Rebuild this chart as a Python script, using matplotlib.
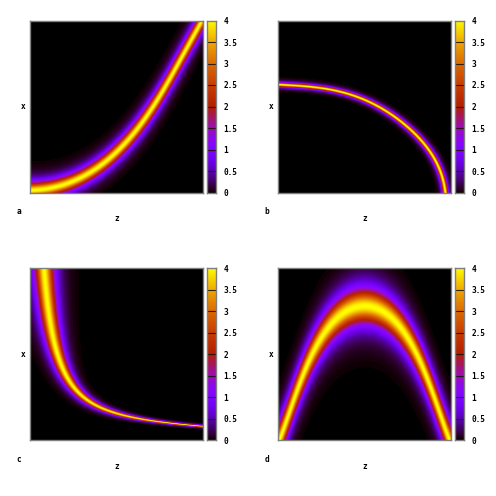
import numpy as np
import matplotlib
matplotlib.use("Agg")
import matplotlib.pyplot as plt

# Ridge crest: z, x (both as fraction of the axis) and crest half-width
ridge_a_z = [-0.10, 0.000, 0.116, 0.231, 0.347, 0.443, 0.520, 0.597, 0.674, 0.725, 0.792, 0.859, 0.917, 0.975, 1.000, 1.06]
ridge_a_x = [0.010, 0.018, 0.024, 0.053, 0.115, 0.193, 0.260, 0.338, 0.435, 0.509, 0.644, 0.751, 0.848, 0.964, 1.000, 1.11]
ridge_a_w = [0.051, 0.051, 0.050, 0.048, 0.044, 0.040, 0.037, 0.035, 0.034, 0.033, 0.033, 0.032, 0.032, 0.031, 0.031, 0.031]

ridge_b_z = [-0.10, 0.000, 0.213, 0.406, 0.503, 0.618, 0.734, 0.830, 0.898, 0.946, 0.969, 0.972, 0.978]
ridge_b_x = [0.632, 0.627, 0.612, 0.572, 0.538, 0.480, 0.392, 0.305, 0.208, 0.112, 0.015, -0.03, -0.08]
ridge_b_w = [0.0135, 0.0135, 0.0135, 0.014, 0.014, 0.015, 0.015, 0.016, 0.016, 0.017, 0.017, 0.017, 0.017]

ridge_c_z = [0.072, 0.081, 0.092, 0.119, 0.154, 0.193, 0.241, 0.308, 0.405, 0.501, 0.598, 0.792, 1.00, 1.10]
ridge_c_x = [1.10, 1.00, 0.840, 0.653, 0.518, 0.412, 0.316, 0.239, 0.191, 0.156, 0.128, 0.097, 0.077, 0.070]
ridge_c_w = [0.060, 0.060, 0.057, 0.050, 0.043, 0.036, 0.029, 0.022, 0.017, 0.014, 0.012, 0.008, 0.006, 0.006]

ridge_d_z = [-0.03, 0.010, 0.019, 0.096, 0.173, 0.231, 0.308, 0.405, 0.500, 0.595, 0.692, 0.769, 0.827, 0.904, 0.981, 0.990, 1.03]
ridge_d_x = [-0.08, 0.000, 0.037, 0.258, 0.441, 0.566, 0.682, 0.750, 0.785, 0.750, 0.682, 0.566, 0.441, 0.258, 0.037, 0.000, -0.08]
ridge_d_w = [0.106] * 17

panel_names = ["a", "b", "c", "d"]
cbar_ticks = [0, 0.5, 1, 1.5, 2, 2.5, 3, 3.5, 4]
cbar_labels = ["0", "0.5", "1", "1.5", "2", "2.5", "3", "3.5", "4"]
peak = 4.0
cells = 173
tail_power = 1.3
tail_scale = 0.68

PX = 496.0
plt.rcParams["font.family"] = "DejaVu Sans Mono"
plt.rcParams["font.weight"] = "bold"
FS = 5.6
FRAME = "#7f7f7f"


def profile(u):
    return peak / np.cosh(u / tail_scale) ** tail_power


def fit_curve(rz, rx, rw, deg, use_log=False):
    """Smooth the readings with a polynomial along the chord length of the crest."""
    a, b = (np.log(rz), np.log(rx)) if use_log else (rz, rx)
    s = np.r_[0, np.cumsum(np.hypot(np.diff(a), np.diff(b)))]
    s = s / s[-1]
    t = np.linspace(0, 1, 1200)
    za = np.polyval(np.polyfit(s, a, deg), t)
    xa = np.polyval(np.polyfit(s, b, deg), t)
    w = np.maximum(np.polyval(np.polyfit(s, rw, 3), t), rw.min())
    if use_log:
        za, xa = np.exp(za), np.exp(xa)
    return za, xa, w


def grid():
    c = np.linspace(0, 1, cells)
    return np.meshgrid(c, c)


def along_normal(rz, rx, rw, deg, use_log=False):
    Z, X = grid()
    zc, xc, w = fit_curve(rz, rx, rw, deg, use_log)
    d2 = (Z[..., None] - zc) ** 2 + (X[..., None] - xc) ** 2
    k = d2.argmin(axis=-1)
    d = np.sqrt(np.take_along_axis(d2, k[..., None], -1))[..., 0]
    return profile(d / w[k])


def along_x(rz, rx, rw, deg):
    Z, X = grid()
    crest = np.polyval(np.polyfit(rz - 0.5, rx, deg), Z - 0.5)
    return profile((X - crest) / rw.mean())


def box(l, t, r, b):
    return [l / PX, 1 - b / PX, (r - l) / PX, (b - t) / PX]


fields = [
    along_normal(np.array(ridge_a_z), np.array(ridge_a_x), np.array(ridge_a_w), 6),
    along_normal(np.array(ridge_b_z), np.array(ridge_b_x), np.array(ridge_b_w), 7),
    along_normal(np.array(ridge_c_z), np.array(ridge_c_x), np.array(ridge_c_w), 5, use_log=True),
    along_x(np.array(ridge_d_z), np.array(ridge_d_x), np.array(ridge_d_w), 8),
]
lefts = [30, 278, 30, 278]
tops = [20.5, 20.5, 268.3, 268.3]

fig = plt.figure(figsize=(PX / 100, PX / 100), dpi=100, facecolor="white")
grad = np.linspace(0, peak, 256)[:, None]
for name, F, l, t in zip(panel_names, fields, lefts, tops):
    ax = fig.add_axes(box(l, t, l + 173, t + 172))
    ax.imshow(F, origin="lower", extent=[0, 1, 0, 1], cmap="gnuplot", vmin=0, vmax=peak,
              aspect="auto", interpolation="bilinear")
    ax.set_xticks([])
    ax.set_yticks([])
    for s in ax.spines.values():
        s.set_color(FRAME)
        s.set_linewidth(1.0)
    fig.text((l + 87) / PX, 1 - (t + 198) / PX, "z", fontsize=FS, ha="center", va="center")
    fig.text((l - 7) / PX, 1 - (t + 86) / PX, "x", fontsize=FS, ha="center", va="center")
    fig.text((l - 11) / PX, 1 - (t + 191) / PX, name, fontsize=FS, ha="center", va="center")

    cax = fig.add_axes(box(l + 177, t, l + 185.5, t + 172))
    cax.imshow(grad, origin="lower", extent=[0, 1, 0, peak], cmap="gnuplot", vmin=0, vmax=peak, aspect="auto")
    cax.set_xticks([])
    cax.yaxis.tick_right()
    cax.set_yticks(cbar_ticks)
    cax.set_yticklabels(cbar_labels, fontsize=FS)
    cax.tick_params(axis="y", length=0, pad=5.5)
    for v in cbar_ticks[1:-1]:
        cax.axhline(v, color="#201008", lw=0.8, alpha=0.9)
    for s in cax.spines.values():
        s.set_color(FRAME)
        s.set_linewidth(1.0)

fig.savefig("out.png", dpi=100)
